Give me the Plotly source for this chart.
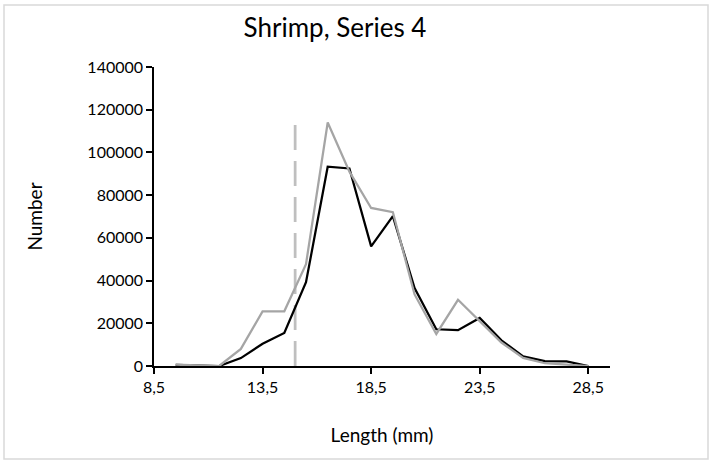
import plotly.graph_objects as go

# ---- data ----
length_mm = [9.5, 10.5, 11.5, 12.5, 13.5, 14.5, 15.5, 16.5, 17.5, 18.5,
             19.5, 20.5, 21.5, 22.5, 23.5, 24.5, 25.5, 26.5, 27.5, 28.5]
series_black = [500, 300, 0, 3700, 10400, 15500, 39200, 93300, 92500, 56000,
                70200, 36500, 17200, 16800, 22500, 12000, 4500, 2300, 2200, 0]
series_gray = [600, 400, 0, 8000, 25600, 25600, 47700, 114000, 91000, 74000,
               72000, 33500, 15000, 31000, 21200, 11000, 3800, 1300, 600, 0]
cutoff_x = [15, 15]
cutoff_y = [0, 114500]

x_tickvals = [8.5, 13.5, 18.5, 23.5, 28.5]
x_ticktext = ["8,5", "13,5", "18,5", "23,5", "28,5"]
y_tickvals = [0, 20000, 40000, 60000, 80000, 100000, 120000, 140000]
y_ticktext = ["0", "20000", "40000", "60000", "80000", "100000", "120000", "140000"]

FONT = "Lato, 'Open Sans', sans-serif"

fig = go.Figure()
fig.add_trace(go.Scatter(x=cutoff_x, y=cutoff_y, mode="lines",
                         line=dict(color="#BFBFBF", width=2.75, dash="25px,11px"),
                         showlegend=False, hoverinfo="skip"))
fig.add_trace(go.Scatter(x=length_mm, y=series_black, mode="lines",
                         line=dict(color="#000000", width=2.25), showlegend=False))
fig.add_trace(go.Scatter(x=length_mm, y=series_gray, mode="lines",
                         line=dict(color="#A5A5A5", width=2.25), showlegend=False))

L, R, T, B = 154, 102, 67, 98
W, H = 712, 464
pw, ph = W - L - R, H - T - B

fig.update_layout(
    width=W, height=H,
    margin=dict(l=L, r=R, t=T, b=B, pad=0),
    paper_bgcolor="white", plot_bgcolor="white",
    font=dict(family=FONT, color="#000000", size=16),
    title=dict(text="Shrimp, Series 4", x=335 / W,
               xanchor="center", y=1 - 28 / H, yanchor="middle",
               font=dict(size=26, family=FONT, color="#000000")),
    xaxis=dict(range=[8.5, 29.5], tickvals=x_tickvals, ticktext=x_ticktext,
               showline=True, linecolor="#000000", linewidth=1.5,
               ticks="outside", ticklen=6, tickwidth=1.5, tickcolor="#000000",
               showgrid=False, zeroline=False,
               tickfont=dict(size=16, family=FONT),
               title=dict(text="Length (mm)", standoff=34,
                          font=dict(size=19, family=FONT))),
    yaxis=dict(range=[0, 140000], tickvals=y_tickvals, ticktext=y_ticktext,
               showline=True, linecolor="#000000", linewidth=1.5,
               ticks="outside", ticklen=6, tickwidth=1.5, tickcolor="#000000",
               showgrid=False, zeroline=False,
               tickfont=dict(size=16, family=FONT),
               title=dict(text="Number", standoff=40,
                          font=dict(size=19, family=FONT))),
    shapes=[dict(type="rect", xref="paper", yref="paper",
                 x0=(4 - L) / pw, x1=(708 - L) / pw,
                 y0=(H - B - 459) / ph, y1=(H - B - 5) / ph,
                 line=dict(color="#D9D9D9", width=1.5), fillcolor="rgba(0,0,0,0)",
                 layer="below")],
)

fig.write_html("out.html")
